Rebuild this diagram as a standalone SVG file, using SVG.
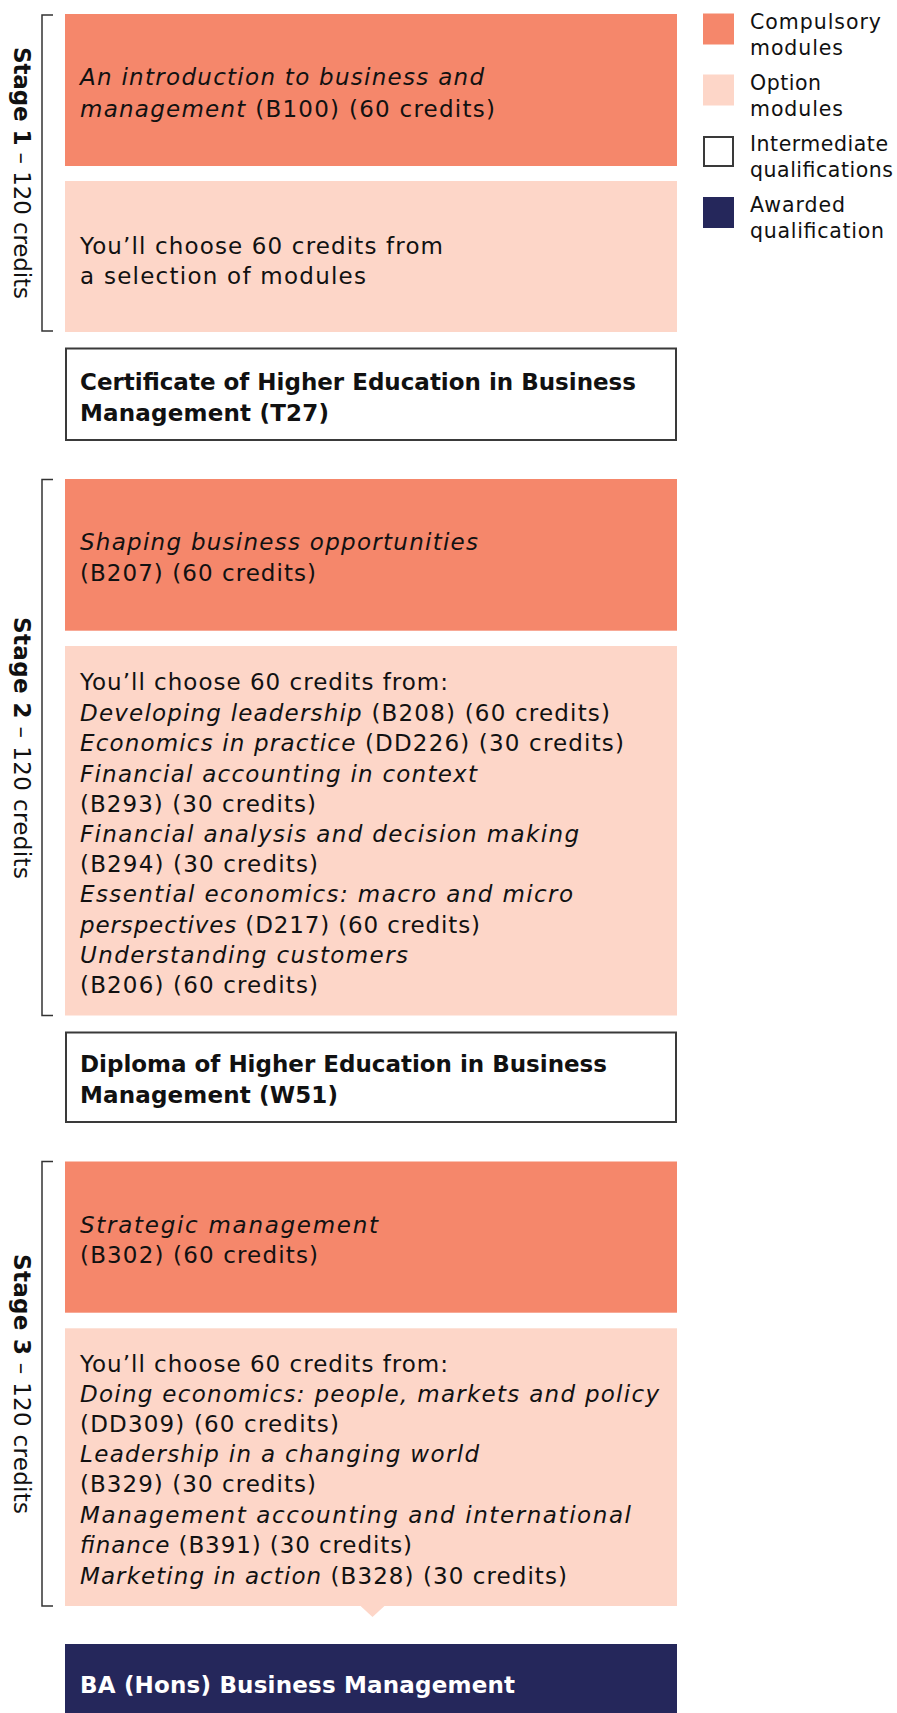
<svg xmlns="http://www.w3.org/2000/svg" width="897" height="1713" viewBox="0 0 897 1713">
<style>
.comp{fill:#F5876B}
.opt{fill:#FDD6C8}
.inter{fill:#FFFFFF;stroke:#3A3A3A;stroke-width:2}
.award{fill:#25275B}
.t{font-family:"DejaVu Sans","Liberation Sans",sans-serif;font-size:23px;fill:#111}
.b{font-family:"DejaVu Sans","Liberation Sans",sans-serif;font-size:23px;font-weight:700;fill:#111}
.w{fill:#FFFFFF}
.i{font-style:italic}
.lg{font-family:"DejaVu Sans","Liberation Sans",sans-serif;font-size:20.5px;fill:#111}
.st{font-family:"DejaVu Sans","Liberation Sans",sans-serif;font-size:23px;fill:#111}
.br{fill:none;stroke:#333;stroke-width:1.5}
</style>

<g id="legend">
  <rect class="comp" x="703" y="13.5" width="31" height="31"/>
  <text class="lg" x="750" y="28.5" textLength="131" lengthAdjust="spacing">Compulsory</text>
  <text class="lg" x="750" y="54.5" textLength="93" lengthAdjust="spacing">modules</text>
  <rect class="opt" x="703" y="74.5" width="31" height="31"/>
  <text class="lg" x="750" y="89.5" textLength="71" lengthAdjust="spacing">Option</text>
  <text class="lg" x="750" y="115.5" textLength="93" lengthAdjust="spacing">modules</text>
  <rect class="inter" x="704" y="137" width="29" height="29"/>
  <text class="lg" x="750" y="151" textLength="138" lengthAdjust="spacing">Intermediate</text>
  <text class="lg" x="750" y="177" textLength="143" lengthAdjust="spacing">qualifications</text>
  <rect class="award" x="703" y="197" width="31" height="31"/>
  <text class="lg" x="750" y="211.5" textLength="95" lengthAdjust="spacing">Awarded</text>
  <text class="lg" x="750" y="237.5" textLength="134" lengthAdjust="spacing">qualification</text>
</g>

<g id="stage1-label">
  <path class="br" d="M53,15 H42 V331 H53"/>
  <text class="st" transform="translate(13.5,173) rotate(90)" text-anchor="middle" textLength="252" lengthAdjust="spacing"><tspan font-weight="700">Stage 1</tspan> – 120 credits</text>
</g>

<g id="b100">
  <rect class="comp" x="65" y="14" width="612" height="152"/>
  <text class="t" x="80" y="85" textLength="404" lengthAdjust="spacing"><tspan class="i">An introduction to business and</tspan></text>
  <text class="t" x="80" y="116.5" textLength="415" lengthAdjust="spacing"><tspan class="i">management</tspan> (B100) (60 credits)</text>
</g>

<g id="stage1-options">
  <rect class="opt" x="65" y="181" width="612" height="151"/>
  <text class="t" x="80" y="253.5" textLength="363" lengthAdjust="spacing">You’ll choose 60 credits from</text>
  <text class="t" x="80" y="284" textLength="286" lengthAdjust="spacing">a selection of modules</text>
</g>

<g id="t27">
  <rect class="inter" x="66" y="348.5" width="610" height="91.5"/>
  <text class="b" x="80" y="390" textLength="556" lengthAdjust="spacing">Certificate of Higher Education in Business</text>
  <text class="b" x="80" y="420.7" textLength="249" lengthAdjust="spacing">Management (T27)</text>
</g>

<g id="stage2-label">
  <path class="br" d="M53,479.5 H42 V1015.5 H53"/>
  <text class="st" transform="translate(13.5,748) rotate(90)" text-anchor="middle" textLength="262" lengthAdjust="spacing"><tspan font-weight="700">Stage 2</tspan> – 120 credits</text>
</g>

<g id="b207">
  <rect class="comp" x="65" y="479" width="612" height="151.7"/>
  <text class="t" x="80" y="550" textLength="398" lengthAdjust="spacing"><tspan class="i">Shaping business opportunities</tspan></text>
  <text class="t" x="80" y="580.7" textLength="236" lengthAdjust="spacing">(B207) (60 credits)</text>
</g>

<g id="stage2-options">
  <rect class="opt" x="65" y="646" width="612" height="369.5"/>
  <text class="t" x="80" y="690" textLength="368" lengthAdjust="spacing">You’ll choose 60 credits from:</text>
  <text class="t" x="80" y="720.5" textLength="530" lengthAdjust="spacing"><tspan class="i">Developing leadership</tspan> (B208) (60 credits)</text>
  <text class="t" x="80" y="751" textLength="544" lengthAdjust="spacing"><tspan class="i">Economics in practice</tspan> (DD226) (30 credits)</text>
  <text class="t" x="80" y="781.5" textLength="397" lengthAdjust="spacing"><tspan class="i">Financial accounting in context</tspan></text>
  <text class="t" x="80" y="812" textLength="236" lengthAdjust="spacing">(B293) (30 credits)</text>
  <text class="t" x="80" y="842" textLength="499" lengthAdjust="spacing"><tspan class="i">Financial analysis and decision making</tspan></text>
  <text class="t" x="80" y="872" textLength="238" lengthAdjust="spacing">(B294) (30 credits)</text>
  <text class="t" x="80" y="902" textLength="493" lengthAdjust="spacing"><tspan class="i">Essential economics: macro and micro</tspan></text>
  <text class="t" x="80" y="932.5" textLength="400" lengthAdjust="spacing"><tspan class="i">perspectives</tspan> (D217) (60 credits)</text>
  <text class="t" x="80" y="963" textLength="328" lengthAdjust="spacing"><tspan class="i">Understanding customers</tspan></text>
  <text class="t" x="80" y="993" textLength="238" lengthAdjust="spacing">(B206) (60 credits)</text>
</g>

<g id="w51">
  <rect class="inter" x="66" y="1032.5" width="610" height="89.5"/>
  <text class="b" x="80" y="1071.7" textLength="527" lengthAdjust="spacing">Diploma of Higher Education in Business</text>
  <text class="b" x="80" y="1102.7" textLength="258" lengthAdjust="spacing">Management (W51)</text>
</g>

<g id="stage3-label">
  <path class="br" d="M53,1161.5 H42 V1606 H53"/>
  <text class="st" transform="translate(13.5,1384) rotate(90)" text-anchor="middle" textLength="260" lengthAdjust="spacing"><tspan font-weight="700">Stage 3</tspan> – 120 credits</text>
</g>

<g id="b302">
  <rect class="comp" x="65" y="1161.5" width="612" height="151.2"/>
  <text class="t" x="80" y="1233.3" textLength="298" lengthAdjust="spacing"><tspan class="i">Strategic management</tspan></text>
  <text class="t" x="80" y="1263.3" textLength="238" lengthAdjust="spacing">(B302) (60 credits)</text>
</g>

<g id="stage3-options">
  <rect class="opt" x="65" y="1328.3" width="612" height="277.7"/>
  <text class="t" x="80" y="1371.7" textLength="368" lengthAdjust="spacing">You’ll choose 60 credits from:</text>
  <text class="t" x="80" y="1401.7" textLength="579" lengthAdjust="spacing"><tspan class="i">Doing economics: people, markets and policy</tspan></text>
  <text class="t" x="80" y="1431.7" textLength="259" lengthAdjust="spacing">(DD309) (60 credits)</text>
  <text class="t" x="80" y="1461.7" textLength="399" lengthAdjust="spacing"><tspan class="i">Leadership in a changing world</tspan></text>
  <text class="t" x="80" y="1492.3" textLength="236" lengthAdjust="spacing">(B329) (30 credits)</text>
  <text class="t" x="80" y="1523" textLength="551" lengthAdjust="spacing"><tspan class="i">Management accounting and international</tspan></text>
  <text class="t" x="80" y="1553.3" textLength="332" lengthAdjust="spacing"><tspan class="i">finance</tspan> (B391) (30 credits)</text>
  <text class="t" x="80" y="1583.5" textLength="487" lengthAdjust="spacing"><tspan class="i">Marketing in action</tspan> (B328) (30 credits)</text>
</g>

<g id="connectors">
  <polygon class="opt" points="360,1605.5 385,1605.5 372.5,1617"/>
</g>

<g id="ba-hons">
  <rect class="award" x="65" y="1644" width="612" height="80"/>
  <text class="b w" x="80" y="1693" textLength="435" lengthAdjust="spacing">BA (Hons) Business Management</text>
</g>
</svg>
